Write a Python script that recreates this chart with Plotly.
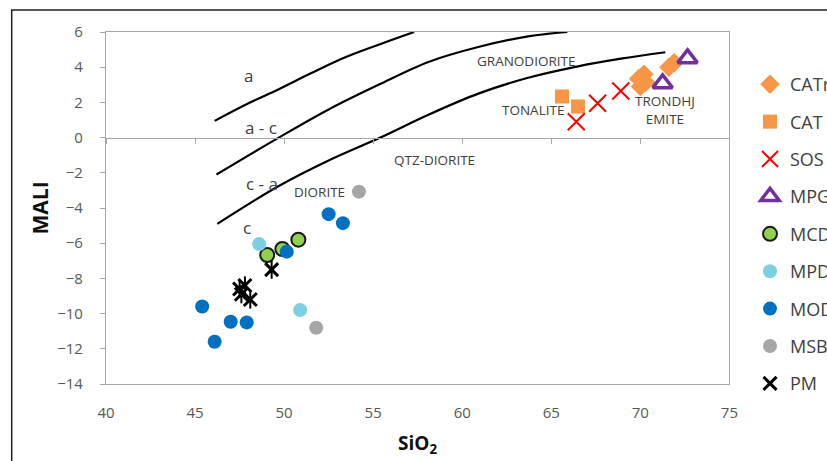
import plotly.graph_objects as go

# ---- boundary curves ----
curve_a_x = [46.1, 48.0, 49.7, 51.5, 53.4, 55.5, 57.3]
curve_a_y = [0.95, 1.95, 2.75, 3.65, 4.55, 5.35, 6.0]
curve_ac_x = [46.2, 49.7, 52.5, 55.3, 58.1, 60.9, 63.7, 65.9]
curve_ac_y = [-2.1, 0.0, 1.6, 3.0, 4.3, 5.15, 5.75, 6.0]
curve_c_x = [46.25, 49.7, 52.5, 55.4, 58.1, 60.9, 63.7, 66.5, 69.0, 71.4]
curve_c_y = [-4.9, -2.75, -1.3, 0.0, 1.3, 2.5, 3.4, 4.05, 4.5, 4.85]

# ---- samples ----
catr_x = [71.9, 71.6, 70.2, 69.9, 70.3, 70.0]
catr_y = [4.25, 4.0, 3.6, 3.35, 3.15, 2.9]
cat_x = [65.6, 66.5]
cat_y = [2.33, 1.76]
sos_x = [66.4, 67.6, 68.9]
sos_y = [0.9, 1.95, 2.65]
mpg_x = [72.65, 71.25]
mpg_y = [4.5, 3.08]
mcd_x = [50.8, 49.9, 49.05]
mcd_y = [-5.8, -6.33, -6.67]
mpd_x = [48.6, 50.9]
mpd_y = [-6.05, -9.8]
mod_x = [52.5, 53.3, 50.15, 45.4, 47.0, 47.9, 46.1]
mod_y = [-4.35, -4.86, -6.48, -9.6, -10.46, -10.5, -11.6]
msb_x = [54.2, 51.8]
msb_y = [-3.07, -10.8]
pm_x = [49.3, 47.5, 47.8, 47.6, 48.1]
pm_y = [-7.5, -8.6, -8.4, -8.9, -9.2]

# ---- field labels ----
label_text = ["a", "a - c", "c - a", "c", "DIORITE", "QTZ-DIORITE",
              "GRANODIORITE", "TONALITE", "TRONDHJ<br>EMITE"]
label_x = [48.0, 48.7, 48.75, 47.9, 52.0, 58.46, 63.6, 64.0, 71.4]
label_y = [3.55, 0.6, -2.6, -5.1, -3.1, -1.25, 4.33, 1.59, 1.55]
label_size = [17, 17, 17, 17, 13.5, 13.5, 13.5, 13.5, 13.5]

x_ticks = [40, 45, 50, 55, 60, 65, 70, 75]
y_ticks = [6, 4, 2, 0, -2, -4, -6, -8, -10, -12, -14]

fig = go.Figure()

for cx, cy in [(curve_a_x, curve_a_y), (curve_ac_x, curve_ac_y), (curve_c_x, curve_c_y)]:
    fig.add_trace(go.Scatter(x=cx, y=cy, mode="lines", line=dict(color="black", width=2.2, shape="spline"),
                             showlegend=False, hoverinfo="skip"))

# zero-line axis with tick marks
fig.add_trace(go.Scatter(x=[], y=[], xaxis="x2", yaxis="y", showlegend=False))

orange = "#F79646"
fig.add_trace(go.Scatter(x=catr_x, y=catr_y, mode="markers", name="CATr", legendgroup="g1",
                         marker=dict(symbol="diamond", size=15, color=orange)))
fig.add_trace(go.Scatter(x=cat_x, y=cat_y, mode="markers", name="CAT", legendgroup="g2",
                         marker=dict(symbol="square", size=14, color=orange)))
fig.add_trace(go.Scatter(x=sos_x, y=sos_y, mode="markers", name="SOS", legendgroup="g3",
                         marker=dict(symbol="x-thin-open", size=17, color="#FF0000",
                                     line=dict(color="#FF0000", width=2))))
fig.add_trace(go.Scatter(x=mpg_x, y=mpg_y, mode="markers", name="MPG", legendgroup="g4",
                         marker=dict(symbol="triangle-up-open", size=17, color="#7030A0",
                                     line=dict(color="#7030A0", width=3.5))))
fig.add_trace(go.Scatter(x=mcd_x, y=mcd_y, mode="markers", name="MCD", legendgroup="g5",
                         marker=dict(symbol="circle", size=14, color="#92D050", line=dict(color="#1a1a1a", width=2))))
fig.add_trace(go.Scatter(x=mpd_x, y=mpd_y, mode="markers", name="MPD", legendgroup="g6",
                         marker=dict(symbol="circle", size=14, color="#7DD0E2")))
fig.add_trace(go.Scatter(x=mod_x, y=mod_y, mode="markers", name="MOD", legendgroup="g7",
                         marker=dict(symbol="circle", size=14, color="#0070C0")))
fig.add_trace(go.Scatter(x=msb_x, y=msb_y, mode="markers", name="MSB", legendgroup="g8",
                         marker=dict(symbol="circle", size=14, color="#A6A6A6")))
fig.add_trace(go.Scatter(x=pm_x, y=pm_y, mode="markers", name="PM", legendgroup="g9",
                         marker=dict(symbol="x-thin-open", size=13, color="black", line=dict(color="black", width=3))))
fig.add_trace(go.Scatter(x=pm_x, y=pm_y, mode="markers", name="PM", legendgroup="g9", showlegend=False,
                         marker=dict(symbol="line-ns-open", size=13, color="black", line=dict(color="black", width=2))))

for t, x, y, s in zip(label_text, label_x, label_y, label_size):
    fig.add_annotation(x=x, y=y, text=t, showarrow=False, font=dict(size=s, color="#404040", family="Open Sans"))

# axis titles
fig.add_annotation(xref="paper", yref="paper", x=(40 - 106) / 628, y=0.5, text="<b>MALI</b>", textangle=-90,
                   xanchor="center", yanchor="middle",
                   showarrow=False, font=dict(size=21, color="#111111", family="Open Sans"))
fig.add_annotation(xref="paper", yref="paper", x=0.5, y=(384 - 444) / 352, text="<b>SiO<sub>2</sub></b>",
                   xanchor="center", yanchor="middle",
                   showarrow=False, font=dict(size=19, color="#111111", family="Open Sans"))

# outer chart border
fig.add_shape(type="rect", xref="paper", yref="paper", x0=(11 - 106) / 628, y0=-2, x1=3, y1=(384 - 10) / 352,
              line=dict(color="#222222", width=1.5), layer="below")

axis_grey = "#A6A6A6"
fig.update_layout(
    width=827, height=461,
    margin=dict(l=106, r=93, t=32, b=77),
    paper_bgcolor="white", plot_bgcolor="white",
    font=dict(family="Open Sans", color="#595959"),
    xaxis=dict(range=[40, 75], tickvals=x_ticks, showgrid=False, zeroline=False,
               showline=True, mirror=True, linecolor=axis_grey, linewidth=1.2,
               ticks="", ticklabelstandoff=15, tickfont=dict(size=15, color="#595959")),
    xaxis2=dict(range=[40, 75], tickvals=x_ticks, overlaying="x", anchor="free", position=0.7,
                showgrid=False, zeroline=False, showline=True, linecolor=axis_grey, linewidth=1.2,
                ticks="outside", ticklen=5, tickcolor=axis_grey, showticklabels=False, side="bottom"),
    yaxis=dict(range=[-14, 6], tickvals=y_ticks, showgrid=False, zeroline=False,
               showline=True, mirror=True, linecolor=axis_grey, linewidth=1.2,
               ticks="outside", ticklen=5, tickcolor=axis_grey, ticklabelstandoff=14,
               tickfont=dict(size=15, color="#595959")),
    legend=dict(xref="container", yref="container", x=750 / 827, y=1 - 66 / 461,
                xanchor="left", yanchor="top", maxheight=420,
                font=dict(size=18, color="#404040", family="Open Sans"),
                tracegroupgap=11, bgcolor="rgba(0,0,0,0)", itemwidth=30),
)

fig.write_html("out.html", config={"displayModeBar": False},
               post_script="document.body.style.margin='0';document.body.style.overflow='hidden';")
